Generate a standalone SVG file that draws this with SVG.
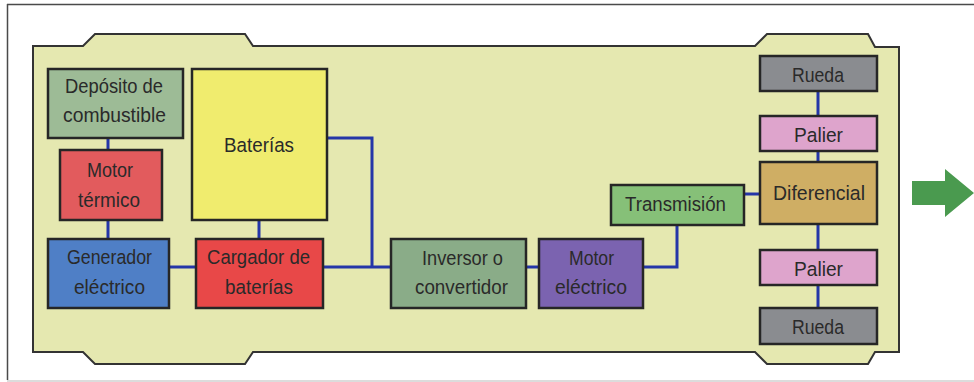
<svg xmlns="http://www.w3.org/2000/svg" width="974" height="382" viewBox="0 0 974 382">
<style>
.box{stroke:#262626;stroke-width:2.5}
.t{font-family:"Liberation Sans",Arial,sans-serif;font-size:20.5px;fill:#2a2a2a;text-anchor:middle}
.c{stroke:#2436a8;stroke-width:3;fill:none}
</style>
<rect x="0" y="0" width="974" height="382" fill="#ffffff"/>
<g id="frame">
<line x1="7" y1="4.5" x2="974" y2="4.5" stroke="#4a4a4a" stroke-width="1.5"/>
<line x1="7.5" y1="4" x2="7.5" y2="380" stroke="#4a4a4a" stroke-width="1.5"/>
<line x1="7" y1="381" x2="974" y2="381" stroke="#dcdcdc" stroke-width="2"/>
</g>
<g id="chassis">
<path d="M33,46 L83,46 L95,34 L245,34 L253,46 L755,46 L767,34 L868,34 L875,47 L899,47 L899,352 L875,352 L868,364 L767,364 L755,352 L253,352 L245,364 L95,364 L83,352 L33,352 Z" fill="#e5e8b0" stroke="#333" stroke-width="2"/>
</g>
<g id="connectors">
<line class="c" x1="108" y1="138" x2="108" y2="150"/>
<line class="c" x1="108" y1="220" x2="108" y2="239"/>
<line class="c" x1="259" y1="220" x2="259" y2="239"/>
<line class="c" x1="169" y1="267" x2="196" y2="267"/>
<line class="c" x1="323" y1="267" x2="391" y2="267"/>
<polyline class="c" points="327,138 372,138 372,267"/>
<line class="c" x1="526" y1="267" x2="539" y2="267"/>
<polyline class="c" points="643,267 677,267 677,225"/>
<line class="c" x1="744" y1="194" x2="760" y2="194"/>
<line class="c" x1="818" y1="91" x2="818" y2="116"/>
<line class="c" x1="818" y1="151" x2="818" y2="162"/>
<line class="c" x1="818" y1="224" x2="818" y2="250"/>
<line class="c" x1="818" y1="285" x2="818" y2="308"/>
</g>
<g id="deposito">
<rect class="box" x="48" y="69" width="135" height="69" fill="#9dbb96"/>
<text class="t" x="114" y="93" textLength="98" lengthAdjust="spacingAndGlyphs">Depósito de</text>
<text class="t" x="114.5" y="122" textLength="103" lengthAdjust="spacingAndGlyphs">combustible</text>
</g>
<g id="motor-termico">
<rect class="box" x="60" y="150" width="102" height="70" fill="#e25b5d"/>
<text class="t" x="110" y="177" textLength="46" lengthAdjust="spacingAndGlyphs">Motor</text>
<text class="t" x="109" y="207" textLength="62" lengthAdjust="spacingAndGlyphs">térmico</text>
</g>
<g id="generador">
<rect class="box" x="48" y="239" width="121" height="69" fill="#4f7fc6"/>
<text class="t" x="109.5" y="264" textLength="85" lengthAdjust="spacingAndGlyphs">Generador</text>
<text class="t" x="109.5" y="294" textLength="71" lengthAdjust="spacingAndGlyphs">eléctrico</text>
</g>
<g id="baterias">
<rect class="box" x="192" y="69" width="135" height="151" fill="#f0ec6e"/>
<text class="t" x="259" y="152" textLength="70" lengthAdjust="spacingAndGlyphs">Baterías</text>
</g>
<g id="cargador">
<rect class="box" x="196" y="239" width="127" height="69" fill="#e84848"/>
<text class="t" x="258.5" y="264" textLength="103" lengthAdjust="spacingAndGlyphs">Cargador de</text>
<text class="t" x="259" y="294" textLength="68" lengthAdjust="spacingAndGlyphs">baterías</text>
</g>
<g id="inversor">
<rect class="box" x="391" y="239" width="135" height="69" fill="#8aac88"/>
<text class="t" x="462.5" y="265" textLength="81" lengthAdjust="spacingAndGlyphs">Inversor o</text>
<text class="t" x="461.5" y="294" textLength="93" lengthAdjust="spacingAndGlyphs">convertidor</text>
</g>
<g id="motor-electrico">
<rect class="box" x="539" y="239" width="104" height="69" fill="#7b63b0"/>
<text class="t" x="591.5" y="265" textLength="45" lengthAdjust="spacingAndGlyphs">Motor</text>
<text class="t" x="591" y="294" textLength="72" lengthAdjust="spacingAndGlyphs">eléctrico</text>
</g>
<g id="transmision">
<rect class="box" x="611" y="185" width="133" height="40" fill="#86c078"/>
<text class="t" x="675.5" y="211" textLength="101" lengthAdjust="spacingAndGlyphs">Transmisión</text>
</g>
<g id="rueda-sup">
<rect class="box" x="760" y="56" width="117" height="35" fill="#8a8c90"/>
<text class="t" x="818" y="82" textLength="52" lengthAdjust="spacingAndGlyphs">Rueda</text>
</g>
<g id="palier-sup">
<rect class="box" x="760" y="116" width="117" height="35" fill="#dea4cc"/>
<text class="t" x="818.5" y="142" textLength="49" lengthAdjust="spacingAndGlyphs">Palier</text>
</g>
<g id="diferencial">
<rect class="box" x="760" y="162" width="117" height="62" fill="#cfae64"/>
<text class="t" x="819" y="200" textLength="92" lengthAdjust="spacingAndGlyphs">Diferencial</text>
</g>
<g id="palier-inf">
<rect class="box" x="760" y="250" width="117" height="35" fill="#dea4cc"/>
<text class="t" x="818.5" y="276" textLength="49" lengthAdjust="spacingAndGlyphs">Palier</text>
</g>
<g id="rueda-inf">
<rect class="box" x="760" y="308" width="117" height="36" fill="#8a8c90"/>
<text class="t" x="818" y="334" textLength="52" lengthAdjust="spacingAndGlyphs">Rueda</text>
</g>
<g id="arrow">
<polygon points="912,181 945,181 945,169 974,193 945,217 945,205 912,205" fill="#4a9a4f"/>
</g>
</svg>
